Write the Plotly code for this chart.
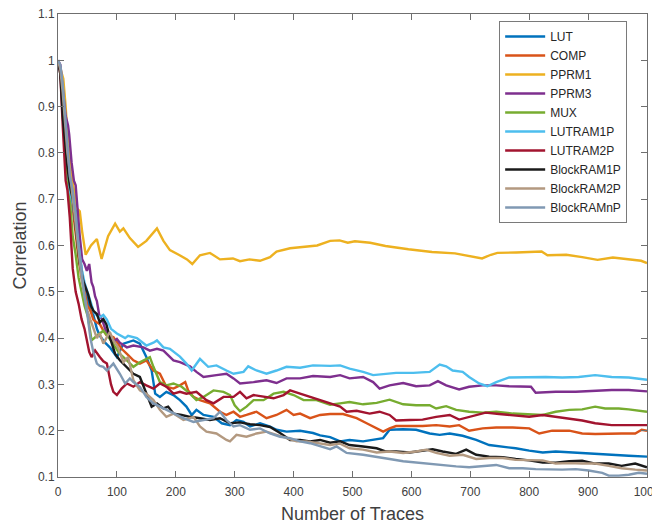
import plotly.graph_objects as go

# ---- data: [number of traces, correlation] pairs ----
LUT = [[0,1.0],[3,0.99],[8,0.92],[12,0.84],[16,0.74],[20,0.73],[25,0.72],[30,0.70],[33,0.66],[37,0.58],[42,0.53],[48,0.50],[55,0.46],[60,0.45],[66,0.42],[71,0.405],[80,0.39],[88,0.38],[100,0.359],[111,0.388],[128,0.395],[139,0.388],[150,0.359],[159,0.33],[165,0.28],[173,0.273],[184,0.284],[196,0.277],[207,0.266],[218,0.252],[227,0.234],[235,0.245],[247,0.234],[264,0.23],[278,0.216],[292,0.212],[303,0.223],[315,0.219],[326,0.209],[343,0.216],[360,0.209],[371,0.202],[388,0.198],[411,0.2],[433,0.195],[445,0.19],[462,0.186],[479,0.177],[495,0.18],[518,0.177],[541,0.182],[552,0.184],[563,0.202],[586,0.203],[608,0.202],[631,0.194],[648,0.191],[665,0.194],[687,0.189],[710,0.18],[732,0.169],[755,0.166],[777,0.162],[800,0.157],[823,0.153],[845,0.155],[868,0.153],[890,0.152],[912,0.15],[940,0.148],[969,0.146],[1000,0.144]]

COMP = [[0,1.0],[4,0.98],[8,0.92],[12,0.85],[16,0.78],[20,0.72],[25,0.68],[30,0.62],[35,0.57],[40,0.53],[45,0.50],[50,0.47],[55,0.46],[60,0.44],[65,0.435],[71,0.43],[77,0.416],[83,0.405],[94,0.402],[108,0.377],[117,0.366],[128,0.352],[139,0.345],[150,0.352],[162,0.33],[173,0.323],[184,0.295],[196,0.291],[207,0.298],[216,0.305],[221,0.287],[230,0.273],[241,0.266],[258,0.259],[275,0.241],[286,0.234],[298,0.241],[309,0.23],[320,0.234],[337,0.241],[354,0.227],[371,0.234],[388,0.245],[400,0.234],[411,0.237],[428,0.227],[445,0.234],[462,0.236],[484,0.236],[507,0.227],[524,0.216],[541,0.205],[552,0.198],[563,0.205],[574,0.21],[597,0.21],[619,0.21],[642,0.212],[665,0.209],[681,0.212],[698,0.2],[721,0.205],[744,0.207],[772,0.207],[800,0.205],[817,0.194],[839,0.2],[868,0.2],[890,0.194],[912,0.193],[935,0.194],[957,0.194],[980,0.194],[991,0.202],[1000,0.2]]

PPRM1 = [[0,1.0],[4,0.98],[9,0.96],[13,0.90],[17,0.82],[22,0.76],[27,0.72],[32,0.68],[37,0.674],[41,0.63],[47,0.58],[56,0.60],[66,0.614],[74,0.571],[85,0.62],[97,0.647],[105,0.63],[111,0.637],[122,0.616],[136,0.597],[150,0.61],[160,0.625],[168,0.637],[179,0.61],[190,0.59],[205,0.58],[219,0.57],[228,0.56],[241,0.579],[258,0.584],[275,0.570],[297,0.572],[309,0.566],[325,0.57],[343,0.567],[360,0.575],[371,0.587],[394,0.594],[422,0.597],[440,0.60],[462,0.61],[478,0.611],[492,0.606],[504,0.609],[530,0.606],[556,0.599],[595,0.592],[635,0.586],[674,0.583],[703,0.577],[720,0.572],[735,0.58],[746,0.584],[778,0.585],[800,0.586],[821,0.587],[831,0.579],[863,0.580],[890,0.575],[916,0.569],[942,0.574],[974,0.569],[990,0.567],[1000,0.562]]

PPRM3 = [[0,1.0],[4,0.99],[8,0.94],[13,0.88],[17,0.86],[19,0.84],[23,0.78],[27,0.74],[30,0.73],[33,0.68],[37,0.62],[41,0.57],[45,0.56],[49,0.545],[53,0.56],[57,0.52],[60,0.51],[63,0.49],[66,0.48],[70,0.45],[75,0.44],[80,0.42],[88,0.40],[94,0.392],[100,0.398],[105,0.39],[117,0.38],[128,0.384],[145,0.38],[156,0.373],[168,0.377],[179,0.373],[196,0.352],[207,0.348],[224,0.339],[235,0.327],[247,0.316],[269,0.32],[286,0.323],[298,0.313],[309,0.302],[332,0.305],[354,0.309],[371,0.303],[388,0.313],[411,0.313],[433,0.318],[462,0.316],[479,0.32],[495,0.313],[518,0.316],[535,0.305],[546,0.291],[563,0.298],[586,0.303],[608,0.296],[631,0.298],[645,0.307],[659,0.298],[681,0.289],[698,0.295],[721,0.298],[744,0.298],[766,0.296],[803,0.295],[811,0.282],[845,0.284],[879,0.284],[912,0.286],[940,0.288],[969,0.288],[1000,0.285]]

MUX = [[0,1.0],[4,0.98],[8,0.90],[12,0.82],[16,0.75],[20,0.70],[25,0.62],[30,0.58],[35,0.53],[40,0.50],[45,0.47],[51,0.445],[57,0.395],[66,0.405],[77,0.416],[88,0.398],[105,0.366],[117,0.352],[128,0.338],[139,0.348],[156,0.359],[162,0.338],[173,0.305],[184,0.298],[196,0.302],[210,0.295],[224,0.28],[235,0.266],[247,0.273],[264,0.287],[281,0.284],[292,0.277],[300,0.255],[309,0.242],[320,0.252],[332,0.266],[349,0.266],[366,0.28],[383,0.284],[400,0.277],[417,0.266],[439,0.266],[462,0.256],[479,0.259],[495,0.262],[518,0.257],[541,0.26],[563,0.267],[586,0.257],[608,0.255],[631,0.255],[642,0.248],[659,0.253],[676,0.245],[698,0.241],[721,0.239],[744,0.241],[772,0.237],[800,0.236],[823,0.234],[845,0.241],[868,0.245],[890,0.246],[912,0.252],[929,0.248],[952,0.248],[969,0.246],[1000,0.241]]

LUTRAM1P = [[0,1.0],[4,0.98],[8,0.92],[12,0.85],[16,0.77],[20,0.72],[25,0.69],[30,0.65],[35,0.60],[40,0.55],[45,0.52],[50,0.50],[55,0.48],[60,0.46],[65,0.45],[71,0.445],[77,0.45],[83,0.44],[90,0.42],[100,0.41],[114,0.40],[119,0.405],[134,0.40],[150,0.384],[162,0.39],[168,0.395],[179,0.38],[190,0.377],[207,0.36],[218,0.345],[227,0.33],[241,0.355],[255,0.338],[269,0.341],[286,0.33],[298,0.323],[315,0.327],[323,0.339],[337,0.33],[354,0.323],[371,0.33],[388,0.338],[411,0.336],[433,0.341],[462,0.34],[479,0.341],[495,0.334],[518,0.327],[535,0.32],[557,0.322],[574,0.325],[603,0.325],[631,0.327],[648,0.343],[659,0.339],[670,0.33],[687,0.327],[698,0.316],[715,0.302],[729,0.296],[744,0.305],[766,0.315],[800,0.316],[828,0.316],[856,0.315],[884,0.316],[912,0.32],[940,0.316],[969,0.315],[1000,0.31]]

LUTRAM2P = [[0,1.0],[4,0.97],[8,0.86],[11,0.80],[13,0.74],[16,0.72],[20,0.66],[25,0.55],[30,0.50],[35,0.474],[40,0.441],[45,0.42],[49,0.395],[53,0.37],[57,0.359],[63,0.373],[71,0.359],[77,0.35],[83,0.345],[90,0.30],[94,0.284],[100,0.277],[108,0.291],[117,0.302],[128,0.295],[139,0.305],[150,0.298],[162,0.291],[173,0.302],[184,0.295],[196,0.28],[207,0.284],[218,0.28],[235,0.284],[252,0.266],[264,0.259],[281,0.273],[298,0.273],[309,0.284],[320,0.27],[332,0.277],[349,0.273],[366,0.27],[383,0.277],[394,0.287],[411,0.28],[428,0.273],[445,0.266],[462,0.259],[479,0.252],[490,0.241],[507,0.243],[529,0.237],[546,0.241],[563,0.234],[574,0.222],[597,0.223],[619,0.224],[642,0.23],[665,0.234],[681,0.224],[704,0.232],[726,0.239],[749,0.236],[772,0.234],[800,0.23],[823,0.234],[845,0.23],[868,0.227],[890,0.222],[912,0.216],[940,0.212],[969,0.212],[1000,0.212]]

BlockRAM1P = [[0,1.0],[4,0.97],[8,0.88],[12,0.82],[16,0.77],[20,0.73],[25,0.70],[30,0.64],[33,0.60],[37,0.56],[43,0.523],[51,0.495],[56,0.47],[60,0.459],[66,0.452],[71,0.434],[77,0.441],[82,0.43],[88,0.402],[97,0.366],[105,0.352],[117,0.338],[128,0.323],[139,0.316],[150,0.28],[159,0.252],[168,0.259],[179,0.248],[187,0.252],[196,0.237],[210,0.234],[224,0.23],[241,0.227],[258,0.223],[275,0.227],[292,0.216],[309,0.218],[326,0.214],[343,0.212],[360,0.208],[377,0.195],[394,0.18],[411,0.18],[428,0.177],[445,0.18],[462,0.174],[479,0.177],[495,0.169],[518,0.166],[541,0.162],[557,0.155],[574,0.155],[597,0.153],[619,0.157],[636,0.16],[653,0.155],[676,0.15],[693,0.159],[710,0.148],[732,0.144],[755,0.143],[777,0.139],[800,0.136],[823,0.131],[845,0.131],[868,0.134],[890,0.135],[912,0.129],[935,0.129],[957,0.124],[980,0.129],[1000,0.121]]

BlockRAM2P = [[0,1.0],[4,0.98],[8,0.93],[12,0.87],[16,0.80],[20,0.76],[25,0.70],[30,0.64],[35,0.58],[40,0.53],[45,0.49],[50,0.46],[55,0.44],[60,0.42],[66,0.40],[71,0.41],[77,0.388],[83,0.402],[88,0.413],[94,0.395],[102,0.38],[111,0.348],[119,0.359],[128,0.309],[139,0.287],[150,0.28],[162,0.266],[173,0.245],[184,0.23],[196,0.237],[213,0.223],[230,0.23],[241,0.209],[252,0.198],[269,0.194],[286,0.18],[292,0.177],[303,0.191],[320,0.187],[337,0.194],[354,0.198],[371,0.191],[388,0.184],[405,0.177],[422,0.177],[439,0.174],[462,0.169],[479,0.172],[495,0.162],[518,0.159],[541,0.153],[563,0.155],[586,0.152],[608,0.155],[625,0.159],[642,0.152],[665,0.146],[687,0.148],[710,0.139],[732,0.141],[755,0.141],[777,0.137],[800,0.137],[823,0.136],[845,0.129],[868,0.13],[890,0.129],[912,0.129],[935,0.124],[957,0.119],[980,0.116],[1000,0.114]]

BlockRAMnP = [[0,1.0],[4,0.99],[8,0.95],[12,0.88],[16,0.81],[20,0.75],[25,0.72],[30,0.67],[35,0.60],[40,0.54],[45,0.49],[50,0.45],[55,0.40],[60,0.37],[66,0.345],[71,0.34],[77,0.338],[83,0.33],[94,0.345],[105,0.323],[114,0.302],[122,0.313],[128,0.305],[139,0.295],[150,0.273],[162,0.259],[173,0.252],[184,0.245],[196,0.237],[213,0.227],[230,0.219],[247,0.223],[264,0.227],[275,0.241],[286,0.223],[298,0.209],[309,0.212],[326,0.202],[343,0.205],[360,0.194],[377,0.187],[394,0.184],[411,0.177],[428,0.173],[445,0.166],[462,0.16],[473,0.166],[490,0.152],[518,0.148],[541,0.144],[563,0.139],[586,0.134],[608,0.131],[631,0.129],[653,0.126],[676,0.123],[698,0.121],[721,0.123],[744,0.126],[766,0.119],[789,0.119],[811,0.117],[834,0.116],[856,0.116],[879,0.117],[901,0.114],[924,0.109],[935,0.103],[952,0.103],[969,0.105],[986,0.109],[1000,0.107]]

SERIES_NAMES = ["LUT", "COMP", "PPRM1", "PPRM3", "MUX", "LUTRAM1P", "LUTRAM2P",
                "BlockRAM1P", "BlockRAM2P", "BlockRAMnP"]
SERIES_DATA = [LUT, COMP, PPRM1, PPRM3, MUX, LUTRAM1P, LUTRAM2P,
               BlockRAM1P, BlockRAM2P, BlockRAMnP]
SERIES_COLORS = ["#0072BD", "#D95319", "#EDB120", "#7E2F8E", "#77AC30", "#4DBEEE",
                 "#A2142F", "#1A1A1A", "#B39980", "#8099B3"]

X_TICKS = [0, 100, 200, 300, 400, 500, 600, 700, 800, 900, 1000]
Y_TICKS = [0.1, 0.2, 0.3, 0.4, 0.5, 0.6, 0.7, 0.8, 0.9, 1.0, 1.1]
Y_TICK_TEXT = ["0.1", "0.2", "0.3", "0.4", "0.5", "0.6", "0.7", "0.8", "0.9", "1", "1.1"]

FONT = "Liberation Sans, Arial, Helvetica, sans-serif"
AXIS_COLOR = "#6f6f6f"
TEXT_COLOR = "#404040"

fig = go.Figure()
for name, pts, color in zip(SERIES_NAMES, SERIES_DATA, SERIES_COLORS):
    fig.add_trace(go.Scatter(
        x=[p[0] for p in pts], y=[p[1] for p in pts], name=name, mode="lines",
        line=dict(color=color, width=2.4)))

axis_common = dict(showline=True, linecolor=AXIS_COLOR, linewidth=1, mirror="ticks",
                   ticks="inside", ticklen=6, tickcolor=AXIS_COLOR, tickwidth=1,
                   showgrid=False, zeroline=False, ticklabeloverflow="allow",
                   automargin=False,
                   tickfont=dict(family=FONT, size=12, color=TEXT_COLOR))

# the page body adds an 8px margin, so the figure is 8px smaller and shifted
fig.update_layout(
    width=652, height=517,
    margin=dict(l=50, r=13, t=6, b=48),
    paper_bgcolor="white", plot_bgcolor="white",
    xaxis=dict(range=[0, 1000], tickvals=X_TICKS, ticklabelstandoff=4, **axis_common),
    yaxis=dict(range=[0.1, 1.1], tickvals=Y_TICKS, ticktext=Y_TICK_TEXT, **axis_common),
    legend=dict(x=0.749, y=0.985, xanchor="left", yanchor="top",
                bgcolor="white", bordercolor="#7a7a7a", borderwidth=1,
                font=dict(family=FONT, size=12, color="#262626"),
                itemwidth=40, tracegroupgap=0),
    showlegend=True,
    annotations=[
        dict(text="Number of Traces", xref="paper", yref="paper", x=0.5, y=-0.08,
             xanchor="center", yanchor="middle", showarrow=False,
             font=dict(family=FONT, size=18, color=TEXT_COLOR)),
        dict(text="Correlation", xref="paper", yref="paper", x=-0.0662, y=0.5,
             xanchor="center", yanchor="middle", textangle=-90, showarrow=False,
             font=dict(family=FONT, size=18, color=TEXT_COLOR)),
    ],
)

fig.write_html("out.html")
